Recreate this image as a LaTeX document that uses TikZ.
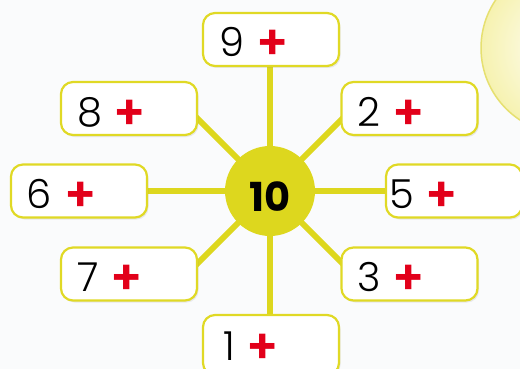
\documentclass[tikz,border=0pt]{standalone}
\usepackage{fontspec}
\setmainfont{Poppins}
\newfontfamily\thindigits{Poppins Light}
\usetikzlibrary{shadows}
\definecolor{bg}{HTML}{FAFBFC}
\definecolor{spoke}{HTML}{DDD71E}
\definecolor{boxline}{HTML}{E0D925}
\definecolor{plusred}{HTML}{E2001A}
\definecolor{sunline}{HTML}{E6E070}
\definecolor{sunfill}{HTML}{F6F2B0}
\newcommand\pl{\hspace{12pt}{\color{plusred}\fontsize{48}{48}\selectfont\bfseries\raisebox{-3pt}{+}}}
\begin{document}
\begin{tikzpicture}[x=1pt,y=-1pt,
 box/.style={draw=boxline, line width=2.2pt, fill=white, rounded corners=12pt,
   minimum width=136pt, minimum height=53pt, text width=104pt, inner xsep=16pt,
   inner ysep=0pt, align=left, text height=35pt, text depth=0pt,
   font=\fontsize{40}{40}\selectfont\thindigits,
   drop shadow={opacity=0.15, shadow xshift=1.5pt, shadow yshift=-2pt}},
 spokeline/.style={draw=spoke, line width=6pt},
 hub/.style={circle, fill=spoke, minimum size=90pt, inner sep=0pt,
   text height=41pt, text depth=0pt,
   font=\fontsize{40}{40}\selectfont\bfseries}
]
\useasboundingbox (0,0) rectangle (520,369);
\clip (0,0) rectangle (520,369);
\fill[bg] (0,0) rectangle (520,369);
% decorative sun
\draw[sunline, line width=1.5pt, inner color=white, outer color=sunfill] (567,48) circle (86);
% spokes
\coordinate (o) at (270,191);
\coordinate (s9) at (270,60);
\coordinate (s1) at (270,330);
\coordinate (s6) at (140,191);
\coordinate (s5) at (395,191);
\coordinate (s8) at (190,111);
\coordinate (s2) at (350,111);
\coordinate (s7) at (190,271);
\coordinate (s3) at (350,271);
\foreach \s in {s1,s2,s3,s5,s6,s7,s8,s9} \draw[spokeline] (o) -- (\s);
\node[hub] (c) at (o) {10};
% boxes
\node[box] (b9) at (271,39.5) {9\pl};
\node[box] (b8) at (129,108.5) {8\pl};
\node[box] (b2) at (409.5,108.5) {2\pl};
\node[box] (b6) at (79,191) {6\pl};
\node[box, inner xsep=3pt, text width=130pt] (b5) at (454,191) {5\pl};
\node[box] (b7) at (129,274) {7\pl};
\node[box] (b3) at (409.5,274) {3\pl};
\node[box, inner xsep=20pt, text width=96pt, minimum height=60pt, text height=30pt] (b1) at (271,345) {1\pl};
\end{tikzpicture}
\end{document}
